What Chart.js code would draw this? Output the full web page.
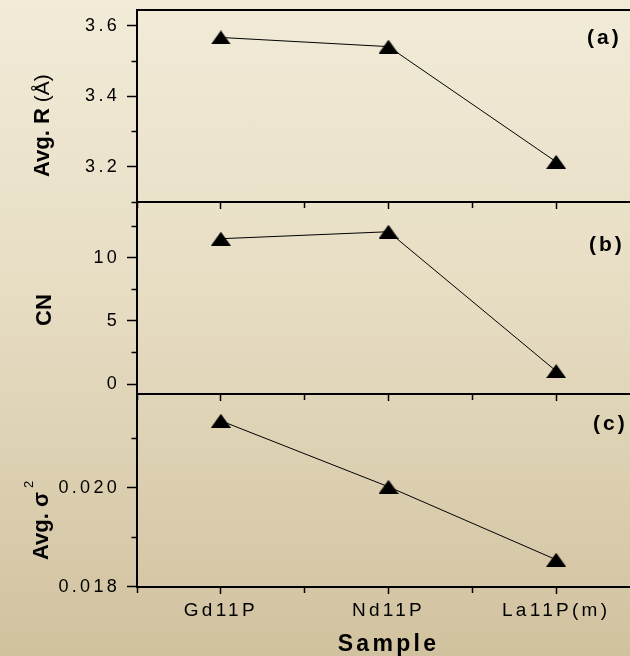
<!DOCTYPE html>
<html>
<head>
<meta charset="utf-8">
<script src="https://cdn.jsdelivr.net/npm/chart.js@4.4.1/dist/chart.umd.min.js"></script>
<style>
  html, body { margin: 0; padding: 0; }
  #wrap {
    position: relative; width: 630px; height: 656px; overflow: hidden;
    background: linear-gradient(to bottom, #f1ebd8 0%, #e7ddc3 45%, #d1c29f 100%);
  }
  .panel { position: absolute; left: 0; width: 660px; }
</style>
</head>
<body>
<div id="wrap">
  <div class="panel" style="top:0;height:212px"><canvas id="chartA"></canvas></div>
  <div class="panel" style="top:192px;height:212px"><canvas id="chartB"></canvas></div>
  <div class="panel" style="top:384px;height:272px"><canvas id="chartC"></canvas></div>
</div>
<script>
// data
const samples = ['Gd11P', 'Nd11P', 'La11P(m)'];
const avgR = [3.567, 3.541, 3.214];
const cn = [11.5, 12.05, 1.04];
const avgSigma2 = [0.02135, 0.02002, 0.01855];

// labelled (major) y ticks of each panel
const rMajor = [3.2, 3.4, 3.6];
const cnMajor = [0, 5, 10];
const sigmaMajor = [0.018, 0.020];

const FONT = '"Liberation Sans", Arial, sans-serif';
Chart.defaults.font.family = FONT;
Chart.defaults.color = '#000';

// filled up-triangle, a bit wider than equilateral
function triangle(w, h) {
  const c = document.createElement('canvas');
  c.width = w; c.height = h;
  const g = c.getContext('2d');
  g.fillStyle = '#000';
  g.beginPath();
  g.moveTo(w / 2, 0);
  g.lineTo(w, h);
  g.lineTo(0, h);
  g.closePath();
  g.fill();
  return c;
}
const marker = triangle(20, 14);

// tick labels in the original are spaced out
const spacing = {
  id: 'spacing',
  beforeDraw(chart) { chart.ctx.letterSpacing = '3.3px'; }
};

// rotated y title (mixed weights) and the (a)/(b)/(c) tag
const panelText = {
  id: 'panelText',
  afterDraw(chart, args, o) {
    const ctx = chart.ctx;
    ctx.save();
    ctx.fillStyle = '#000';
    ctx.textBaseline = 'alphabetic';
    ctx.textAlign = 'left';
    ctx.font = 'bold 21px ' + FONT;
    ctx.letterSpacing = '3px';
    ctx.fillText(o.tag, o.tagX, o.tagY);
    ctx.letterSpacing = '0px';
    ctx.translate(o.titleX, o.titleY);
    ctx.rotate(-Math.PI / 2);
    let pos = 0;
    for (const p of o.title) {
      ctx.font = p.font;
      ctx.fillText(p.text, pos, p.rise || 0);
      pos += ctx.measureText(p.text).width + (p.after || 0);
    }
    ctx.restore();
  }
};

function near(list, v, step) {
  return list.some(m => Math.abs(m - v) < step / 100);
}

// fixed axis sizes so the three panels line up exactly
function noPad(s) {
  s.paddingTop = 0; s.paddingBottom = 0;
  s.paddingLeft = 0; s.paddingRight = 0;
}

function yAxis(min, max, step, major, digits) {
  return {
    type: 'linear', position: 'left', min: min, max: max,
    afterFit(s) { s.width = 137; noPad(s); },
    ticks: {
      stepSize: step, includeBounds: false, autoSkip: false,
      font: { size: 18 }, padding: 7,
      callback: v => near(major, v, step) ? v.toFixed(digits) : ''
    },
    grid: {
      drawOnChartArea: false, tickLength: 10, tickWidth: 1.5, tickColor: '#000',
      tickBorderDash: c => near(major, c.tick.value, step) ? [] : [0, 4.5, 20, 0]
    },
    border: { color: '#000', width: 2 }
  };
}

function xAxis(last) {
  return {
    type: 'linear', position: 'bottom', min: 0.5, max: 3.5,
    afterFit(s) { s.height = last ? 69 : 10; noPad(s); },
    ticks: {
      display: last, stepSize: 0.5, autoSkip: false, maxRotation: 0,
      font: { size: 19 }, padding: 5,
      callback: v => Number.isInteger(v) ? samples[v - 1] : ''
    },
    grid: {
      drawOnChartArea: false, tickLength: 7, tickWidth: 1.5, tickColor: '#000',
      tickBorderDash: c => Number.isInteger(c.tick.value) ? [] : [5, 20]
    },
    border: { color: '#000', width: 2 },
    title: {
      display: last, text: 'Sample',
      font: { size: 23, weight: 'bold', lineHeight: 1 },
      padding: { top: 0, bottom: 0 }
    }
  };
}

function makePanel(id, values, y, text, top) {
  const scales = { x: xAxis(id === 'chartC'), y: y };
  if (top) {
    scales.xTop = {
      type: 'linear', position: 'top', min: 0.5, max: 3.5,
      afterFit(s) { s.height = 0; noPad(s); },
      ticks: { display: false },
      grid: { drawOnChartArea: false, drawTicks: false },
      border: { color: '#000', width: 2 }
    };
  }
  new Chart(document.getElementById(id), {
    type: 'line',
    data: {
      datasets: [{
        data: values.map((v, i) => ({ x: i + 1, y: v })),
        borderColor: '#000',
        borderWidth: 1,
        pointStyle: marker,
        pointRadius: 8,
        fill: false
      }]
    },
    options: {
      responsive: true,
      maintainAspectRatio: false,
      animation: false,
      events: [],
      layout: { padding: { top: 10, right: 20, left: 0, bottom: 0 } },
      scales: scales,
      plugins: {
        legend: { display: false },
        tooltip: { enabled: false },
        panelText: text
      }
    },
    plugins: [spacing, panelText]
  });
}

makePanel('chartA', avgR, yAxis(3.1, 3.645, 0.1, rMajor, 1), {
  tag: '(a)', tagX: 587, tagY: 44,
  titleX: 49, titleY: 177,
  title: [
    { text: 'Avg. R', font: 'bold 22px ' + FONT },
    { text: ' (Å)', font: '21px ' + FONT }
  ]
}, true);

makePanel('chartB', cn, yAxis(-0.77, 14.4, 2.5, cnMajor, 0), {
  tag: '(b)', tagX: 589, tagY: 59,
  titleX: 51, titleY: 134,
  title: [{ text: 'CN', font: 'bold 22px ' + FONT }]
}, false);

makePanel('chartC', avgSigma2, yAxis(0.018, 0.02189, 0.001, sigmaMajor, 3), {
  tag: '(c)', tagX: 593, tagY: 46,
  titleX: 48, titleY: 176,
  title: [
    { text: 'Avg. σ', font: 'bold 22px ' + FONT, after: 4 },
    { text: '2', font: '13px ' + FONT, rise: -15 }
  ]
}, false);
</script>
</body>
</html>
